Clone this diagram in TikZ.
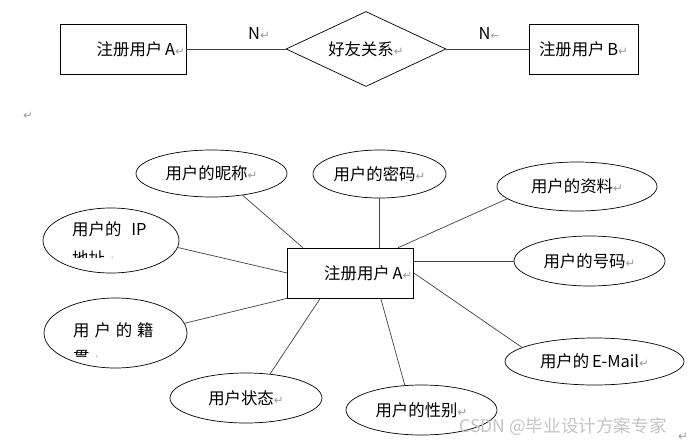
\documentclass[tikz,border=0pt]{standalone}
\usepackage{fontspec}
\setmainfont{Noto Sans CJK SC}
\newfontfamily\arrowfont{DejaVu Sans}
\usetikzlibrary{shapes.geometric}
\definecolor{retgray}{HTML}{9A9A9A}
\definecolor{markgray}{HTML}{C4C4C4}
\newcommand{\ret}{{\arrowfont\fontsize{10}{10}\selectfont\color{retgray}↵}}

\begin{document}
\begin{tikzpicture}[x=0.03cm, y=-0.03cm,
    font=\fontsize{14}{17}\selectfont,
    entity/.style={draw, rectangle, line width=0.6pt, minimum height=1.5cm, inner sep=1pt},
    rel/.style={draw, diamond, line width=0.6pt, aspect=2.13, minimum width=4.8cm, minimum height=2.25cm, inner sep=0pt},
    attr/.style={draw, ellipse, line width=0.6pt, inner sep=0pt},
    link/.style={line width=0.6pt, black!75}]

  \useasboundingbox (0,0) rectangle (694,445);

  %% friend relation
  \node[entity, minimum width=3.78cm, text width=3.71cm, align=right] (userA) at (123,49) {注册用户\,A\ret};
  \node[rel] (friend) at (366,49) {好友关系\ret};
  \node[entity, minimum width=3.27cm] (userB) at (583.5,49) {注册用户\,B\ret};
  \draw[link] (userA) -- (friend);
  \draw[link] (friend) -- (userB);
  \node (nA) at (259,33) {N\ret};
  \node (nB) at (489,33) {N{\arrowfont\fontsize{9}{9}\selectfont\color{retgray}←}};
  \node (gap) at (28,116) {\ret};

  %% user entity and its attributes
  \node[entity, minimum width=3.78cm, text width=3.71cm, align=right] (user) at (350.5,273) {注册用户\,A\ret};

  \node[attr, minimum width=4.53cm, minimum height=1.41cm] (nick) at (211.5,173.5) {用户的昵称\ret};
  \node[attr, minimum width=3.99cm, minimum height=1.44cm] (pwd) at (379.5,174) {用户的密码\ret};
  \node[attr, minimum width=4.80cm, minimum height=1.47cm] (info) at (577,186.5) {用户的资料\ret};
  \node[attr, minimum width=4.53cm, minimum height=1.50cm] (phone) at (589.5,261) {用户的号码\ret};
  \node[attr, minimum width=5.37cm, minimum height=1.41cm] (mail) at (594.5,361.5) {用户的\,E-Mail\ret};
  \node[attr, minimum width=4.53cm, minimum height=1.50cm] (sex) at (421.5,410) {用户的性别\ret};
  \node[attr, minimum width=4.56cm, minimum height=1.50cm] (state) at (246,398) {用户状态\ret};

  %% two-line attributes, second line cut off
  \node[attr, minimum width=4.08cm, minimum height=1.95cm] (ip) at (111,240.5) {};
  \node[anchor=west, inner sep=0pt] (iptxt) at (72,229) {用户的\hspace{0.6em}IP};
  \begin{scope}
    \clip (40,240) rectangle (190,257);
    \node[anchor=west, inner sep=0pt] (ipcut) at (72,258) {地址\ret};
  \end{scope}
  \node[attr, minimum width=4.29cm, minimum height=2.10cm] (origin) at (115.5,333) {};
  \node[anchor=west, inner sep=0pt] (origintxt) at (73,330) {用\hspace{0.3em}户\hspace{0.3em}的\hspace{0.3em}籍};
  \begin{scope}
    \clip (40,340) rectangle (190,356);
    \node[anchor=west, inner sep=0pt] (origincut) at (73,358) {贯\ret};
  \end{scope}

  \draw[link] (nick.-35) -- (user.152);
  \draw[link] (pwd.south) -- (pwd.south |- user.north);
  \draw[link] (info.190) -- (user.28);
  \draw[link] (phone.west) -- (phone.west -| user.east);
  \draw[link] (ip.-6) -- (user.west);
  \draw[link] (origin.8) -- (user.south west);
  \draw[link] (state.45) -- (user.220);
  \draw[link] (sex.124) -- (user.-40);
  \draw[link] (mail.169) -- (user.east);

  \node[font=\fontsize{15}{18}\selectfont, text=markgray] (mark) at (563,427) {CSDN @毕业设计方案专家};
  \node (tail) at (683,437) {\ret};

\end{tikzpicture}
\end{document}
